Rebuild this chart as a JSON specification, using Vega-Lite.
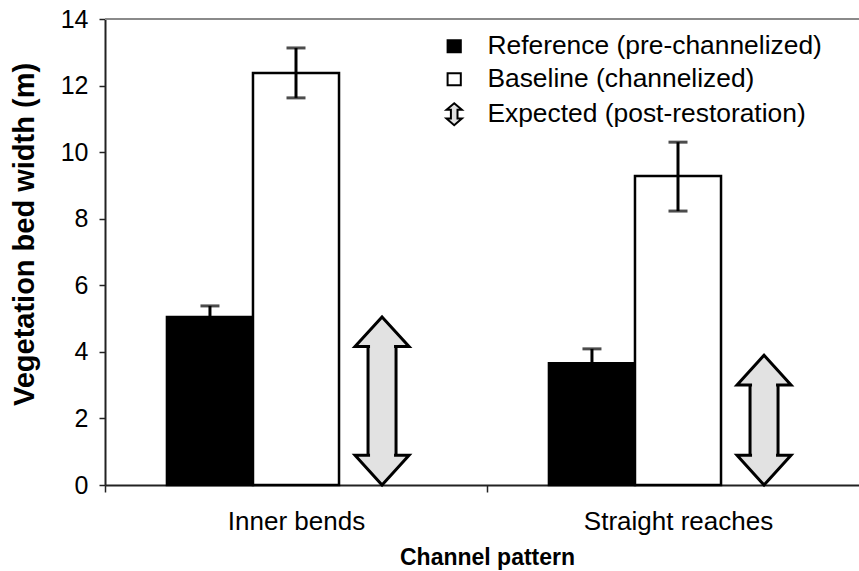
{
  "$schema": "https://vega.github.io/schema/vega-lite/v6.json",
  "width": 754,
  "height": 466,
  "autosize": {"type": "none"},
  "padding": {"left": 105, "top": 19, "right": 0, "bottom": 86},
  "background": "white",
  "datasets": {
    "bars": [
      {"pattern": "Inner bends", "group": "Reference (pre-channelized)", "value": 5.05, "lo": 4.72, "hi": 5.38},
      {"pattern": "Inner bends", "group": "Baseline (channelized)", "value": 12.38, "lo": 11.63, "hi": 13.13},
      {"pattern": "Straight reaches", "group": "Reference (pre-channelized)", "value": 3.66, "lo": 3.23, "hi": 4.09},
      {"pattern": "Straight reaches", "group": "Baseline (channelized)", "value": 9.28, "lo": 8.23, "hi": 10.3}
    ],
    "arrows": [
      {"pattern": "Inner bends", "group": "Expected (post-restoration)", "lo": 0, "hi": 5.05},
      {"pattern": "Straight reaches", "group": "Expected (post-restoration)", "lo": 0, "hi": 3.9}
    ]
  },
  "layer": [
    {
      "data": {"values": [{}]},
      "mark": {"type": "rule", "color": "#8a8a8a", "strokeWidth": 2},
      "encoding": {"y": {"datum": 14, "type": "quantitative"}}
    },
    {
      "data": {"name": "bars"},
      "mark": {"type": "bar", "stroke": "black", "strokeWidth": 2.5},
      "encoding": {
        "x": {"field": "pattern", "type": "nominal", "scale": {"range": [0, 764], "paddingInner": 0, "paddingOuter": 0}, "axis": {"title": "Channel pattern", "labelAngle": 0, "labelLimit": 0}},
        "xOffset": {"field": "group", "type": "nominal", "sort": null, "scale": {"domain": ["Reference (pre-channelized)", "Baseline (channelized)", "Expected (post-restoration)"], "paddingInner": 0, "paddingOuter": 0.72}},
        "y": {"field": "value", "type": "quantitative", "scale": {"domain": [0, 14], "nice": false}, "axis": {"title": "Vegetation bed width (m)", "values": [0, 2, 4, 6, 8, 10, 12, 14], "titleY": 215}},
        "fill": {
          "field": "group", "type": "nominal",
          "scale": {"domain": ["Reference (pre-channelized)", "Baseline (channelized)", "Expected (post-restoration)"], "range": ["black", "white", "#e2e2e2"]},
          "legend": {
            "title": null, "orient": "none", "legendX": 336, "legendY": 14,
            "labelFontSize": 26.4, "labelFont": "Liberation Sans", "labelColor": "black", "labelLimit": 0,
            "symbolSize": 484, "symbolStrokeColor": "black", "symbolStrokeWidth": 2,
            "rowPadding": 6, "labelOffset": 20, "padding": 0,
            "encode": {"symbols": {"update": {"shape": {"signal": "datum.value == 'Expected (post-restoration)' ? 'M0,-1L0.7,-0.4L0.3,-0.4L0.3,0.4L0.7,0.4L0,1L-0.7,0.4L-0.3,0.4L-0.3,-0.4L-0.7,-0.4Z' : 'M-0.6,-0.55H0.6V0.55H-0.6Z'"}}}}
          }
        }
      }
    },
    {
      "data": {"name": "bars"},
      "mark": {"type": "rule", "color": "black", "strokeWidth": 3},
      "encoding": {
        "x": {"field": "pattern", "type": "nominal"},
        "xOffset": {"field": "group", "type": "nominal"},
        "y": {"field": "lo", "type": "quantitative"},
        "y2": {"field": "hi"}
      }
    },
    {
      "data": {"name": "bars"},
      "mark": {"type": "tick", "color": "black", "size": 19, "thickness": 3},
      "encoding": {
        "x": {"field": "pattern", "type": "nominal"},
        "xOffset": {"field": "group", "type": "nominal"},
        "y": {"field": "lo", "type": "quantitative"}
      }
    },
    {
      "data": {"name": "bars"},
      "mark": {"type": "tick", "color": "black", "size": 19, "thickness": 3},
      "encoding": {
        "x": {"field": "pattern", "type": "nominal"},
        "xOffset": {"field": "group", "type": "nominal"},
        "y": {"field": "hi", "type": "quantitative"}
      }
    },
    {
      "data": {"name": "arrows"},
      "mark": {"type": "bar", "width": 28, "fill": "#e2e2e2", "stroke": "black", "strokeWidth": 3, "yOffset": 29, "y2Offset": -29},
      "encoding": {
        "x": {"field": "pattern", "type": "nominal"},
        "xOffset": {"field": "group", "type": "nominal"},
        "y": {"field": "hi", "type": "quantitative"},
        "y2": {"field": "lo"}
      }
    },
    {
      "data": {"name": "arrows"},
      "mark": {"type": "point", "shape": "M0,0L1,1.1L-1,1.1Z", "size": 2916, "filled": true, "fill": "#e2e2e2", "stroke": "black", "strokeWidth": 3, "opacity": 1},
      "encoding": {
        "x": {"field": "pattern", "type": "nominal"},
        "xOffset": {"field": "group", "type": "nominal"},
        "y": {"field": "hi", "type": "quantitative"}
      }
    },
    {
      "data": {"name": "arrows"},
      "mark": {"type": "point", "shape": "M0,0L1,-1.1L-1,-1.1Z", "size": 2916, "filled": true, "fill": "#e2e2e2", "stroke": "black", "strokeWidth": 3, "opacity": 1},
      "encoding": {
        "x": {"field": "pattern", "type": "nominal"},
        "xOffset": {"field": "group", "type": "nominal"},
        "y": {"field": "lo", "type": "quantitative"}
      }
    },
    {
      "data": {"name": "arrows"},
      "mark": {"type": "bar", "width": 24, "fill": "#e2e2e2", "strokeWidth": 0, "yOffset": 26, "y2Offset": -26},
      "encoding": {
        "x": {"field": "pattern", "type": "nominal"},
        "xOffset": {"field": "group", "type": "nominal"},
        "y": {"field": "hi", "type": "quantitative"},
        "y2": {"field": "lo"}
      }
    }
  ],
  "config": {
    "view": {"stroke": null},
    "font": "Liberation Sans",
    "axis": {
      "domainColor": "#222", "domainWidth": 2, "tickColor": "#222", "tickWidth": 1.5, "tickSize": 6,
      "labelFont": "Liberation Sans", "labelFontSize": 25, "labelColor": "black",
      "titleFont": "Liberation Sans", "titleFontWeight": "bold", "titleColor": "black", "grid": false
    },
    "axisY": {"labelPadding": 11, "titleFontSize": 29, "titlePadding": 21},
    "axisX": {"tickBand": "extent", "tickSize": 7, "labelPadding": 16, "labelFontSize": 26, "titleFontSize": 23, "titlePadding": 12}
  }
}
